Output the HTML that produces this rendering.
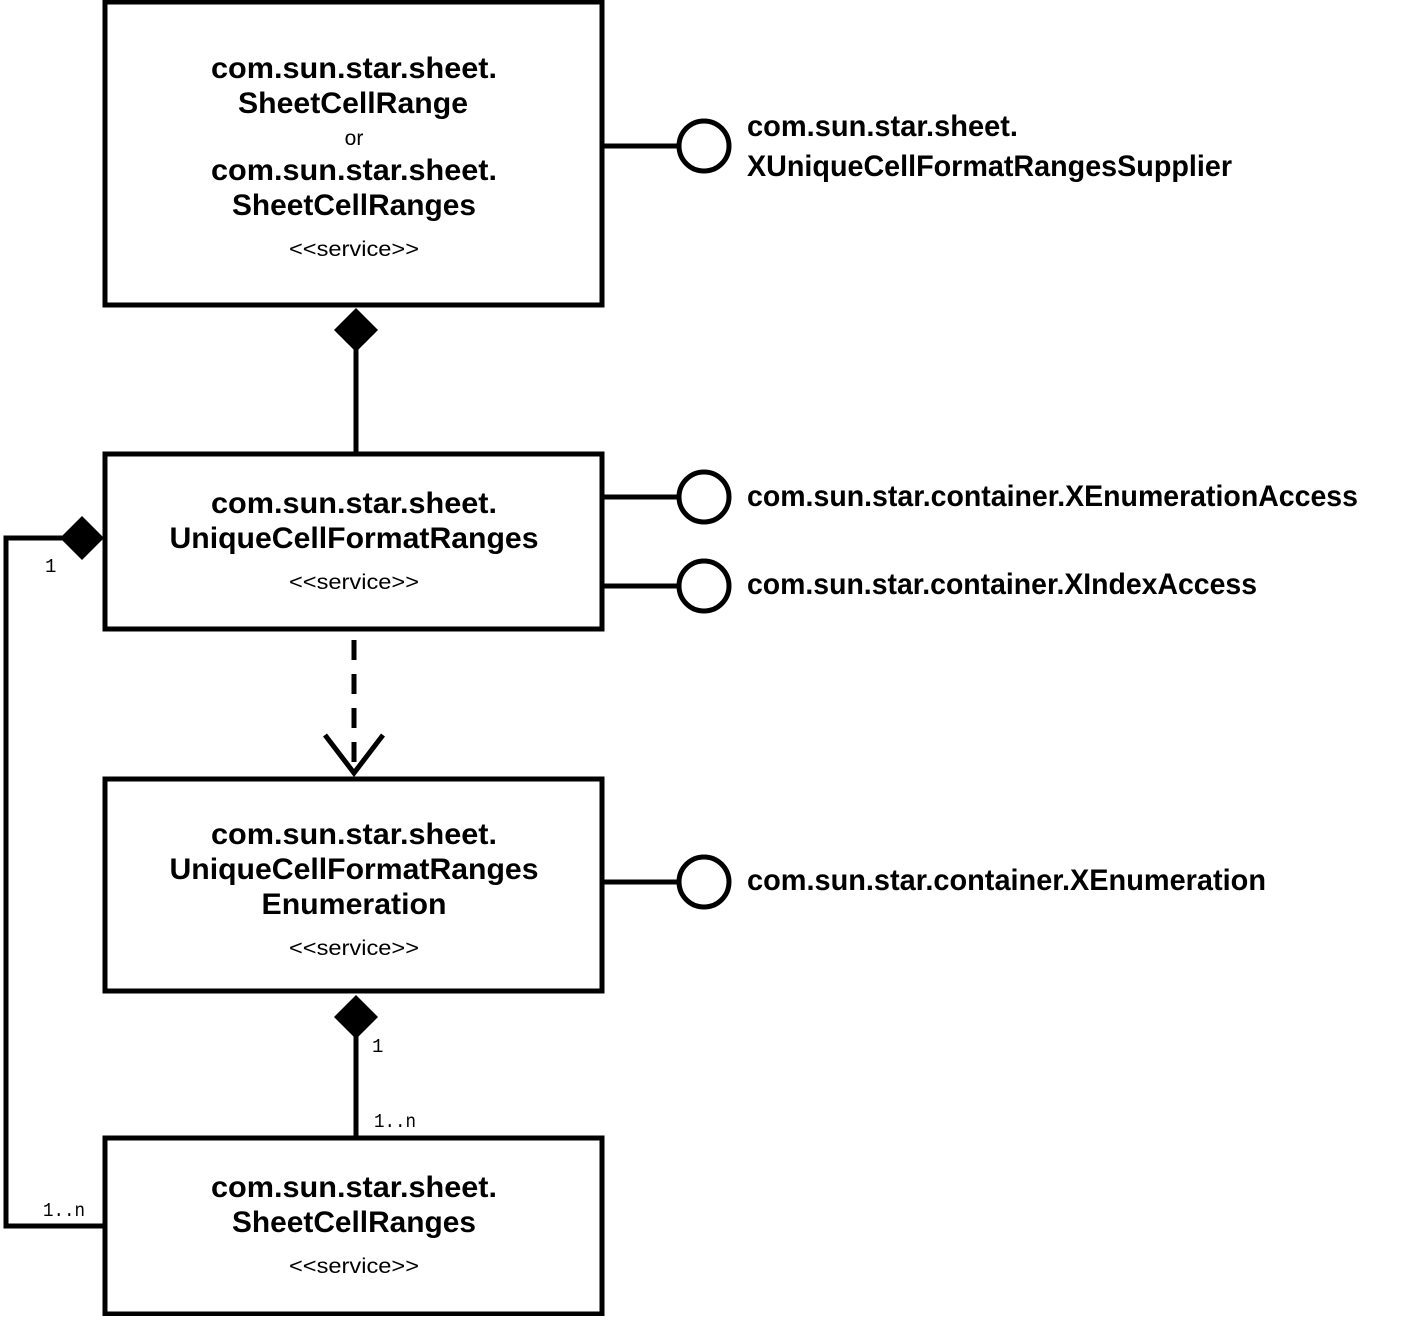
<!DOCTYPE html>
<html><head><meta charset="utf-8"><style>
html,body{margin:0;padding:0;background:#fff}
svg text{font-family:"Liberation Sans",sans-serif;fill:#000}
.b{font-weight:bold;font-size:30px}
.s{font-size:21px}
.m{font-size:19px;font-family:"Liberation Mono",monospace}
</style></head><body>
<svg width="1410" height="1316" viewBox="0 0 1410 1316" xmlns="http://www.w3.org/2000/svg">
<g fill="none" stroke="#000" stroke-width="5">
<rect x="105" y="2" width="497" height="303"/>
<rect x="105" y="454" width="497" height="175"/>
<rect x="105" y="779" width="497" height="212"/>
<rect x="105" y="1138" width="497" height="176"/>
<line x1="602" y1="146" x2="679" y2="146"/>
<circle cx="704" cy="146" r="25"/>
<line x1="602" y1="497" x2="679" y2="497"/>
<circle cx="704" cy="497" r="25"/>
<line x1="602" y1="586" x2="679" y2="586"/>
<circle cx="704" cy="586" r="25"/>
<line x1="602" y1="882" x2="679" y2="882"/>
<circle cx="704" cy="882" r="25"/>
<line x1="356" y1="340" x2="356" y2="454"/>
<line x1="356" y1="1025" x2="356" y2="1138"/>
<line x1="354" y1="640" x2="354" y2="770" stroke-dasharray="20,14"/>
<polyline points="325,735 354,773 383,735"/>
<polyline points="70,538 6,538 6,1226 105,1226"/>
</g>
<polygon points="356,308 378,330 356,352 334,330" fill="#000"/>
<polygon points="82,516 104,538 82,560 60,538" fill="#000"/>
<polygon points="356,995 378,1017 356,1039 334,1017" fill="#000"/>
<g text-anchor="middle" lengthAdjust="spacingAndGlyphs">
<text class="b" x="354" y="78" textLength="286" lengthAdjust="spacingAndGlyphs">com.sun.star.sheet.</text>
<text class="b" x="353" y="113" textLength="230" lengthAdjust="spacingAndGlyphs">SheetCellRange</text>
<text class="s" x="354" y="145">or</text>
<text class="b" x="354" y="180" textLength="286" lengthAdjust="spacingAndGlyphs">com.sun.star.sheet.</text>
<text class="b" x="354" y="215" textLength="244" lengthAdjust="spacingAndGlyphs">SheetCellRanges</text>
<text class="s" x="354" y="256" textLength="130" lengthAdjust="spacingAndGlyphs">&lt;&lt;service&gt;&gt;</text>
<text class="b" x="354" y="513" textLength="286" lengthAdjust="spacingAndGlyphs">com.sun.star.sheet.</text>
<text class="b" x="354" y="548" textLength="369" lengthAdjust="spacingAndGlyphs">UniqueCellFormatRanges</text>
<text class="s" x="354" y="589" textLength="130" lengthAdjust="spacingAndGlyphs">&lt;&lt;service&gt;&gt;</text>
<text class="b" x="354" y="844" textLength="286" lengthAdjust="spacingAndGlyphs">com.sun.star.sheet.</text>
<text class="b" x="354" y="879" textLength="369" lengthAdjust="spacingAndGlyphs">UniqueCellFormatRanges</text>
<text class="b" x="354" y="914" textLength="185" lengthAdjust="spacingAndGlyphs">Enumeration</text>
<text class="s" x="354" y="955" textLength="130" lengthAdjust="spacingAndGlyphs">&lt;&lt;service&gt;&gt;</text>
<text class="b" x="354" y="1197" textLength="286" lengthAdjust="spacingAndGlyphs">com.sun.star.sheet.</text>
<text class="b" x="354" y="1232" textLength="244" lengthAdjust="spacingAndGlyphs">SheetCellRanges</text>
<text class="s" x="354" y="1273" textLength="130" lengthAdjust="spacingAndGlyphs">&lt;&lt;service&gt;&gt;</text>
</g>
<text class="b" x="747" y="136" textLength="271" lengthAdjust="spacingAndGlyphs">com.sun.star.sheet.</text>
<text class="b" x="747" y="176" textLength="485" lengthAdjust="spacingAndGlyphs">XUniqueCellFormatRangesSupplier</text>
<text class="b" x="747" y="506" textLength="611" lengthAdjust="spacingAndGlyphs">com.sun.star.container.XEnumerationAccess</text>
<text class="b" x="747" y="594" textLength="510" lengthAdjust="spacingAndGlyphs">com.sun.star.container.XIndexAccess</text>
<text class="b" x="747" y="890" textLength="519" lengthAdjust="spacingAndGlyphs">com.sun.star.container.XEnumeration</text>
<text class="m" x="45" y="572">1</text>
<text class="m" x="43" y="1216" textLength="42" lengthAdjust="spacingAndGlyphs">1..n</text>
<text class="m" x="372" y="1052">1</text>
<text class="m" x="374" y="1127" textLength="42" lengthAdjust="spacingAndGlyphs">1..n</text>
</svg>
</body></html>
